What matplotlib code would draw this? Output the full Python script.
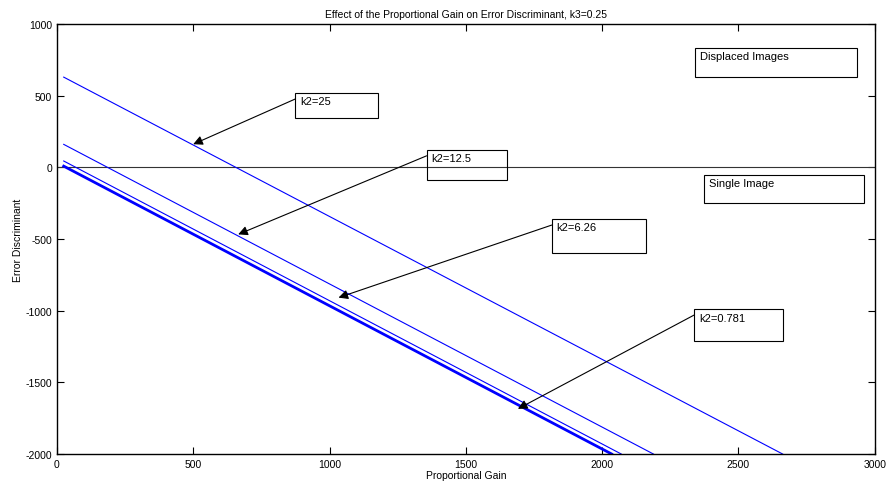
import matplotlib.pyplot as plt
from matplotlib.patches import Rectangle

plt.rcParams['font.family'] = ['Liberation Sans', 'DejaVu Sans']
plt.rcParams['axes.unicode_minus'] = False

# each line is straight: start point and the point where it leaves the bottom
labels = ['k2=25', 'k2=12.5', 'k2=6.26', 'k2=0.781']
gain_start = [25, 25, 25, 25]
disc_start = [629, 160, 44, 8]
gain_end = [2662, 2188, 2070, 2035]
disc_end = [-2000, -2000, -2000, -2000]
widths = [0.8, 0.8, 0.8, 2.0]

# annotation boxes (data coords): left, bottom, right, top, arrow head
boxes = [
    ('k2=25', 875, 343, 1176, 517, (500, 161)),
    ('k2=12.5', 1356, -90, 1650, 120, (665, -468)),
    ('k2=6.26', 1815, -600, 2160, -363, (1033, -909)),
    ('k2=0.781', 2337, -1214, 2664, -991, (1691, -1685)),
    ('Displaced Images', 2340, 630, 2935, 832, None),
    ('Single Image', 2373, -250, 2960, -55, None),
]

fig = plt.figure(figsize=(8.89, 4.89), dpi=100)
ax = fig.add_axes([0.064, 0.0695, 0.92, 0.8795])

ax.plot([0, 3000], [0, 0], color='#333333', lw=0.8)
for i in range(len(labels)):
    ax.plot([gain_start[i], gain_end[i]], [disc_start[i], disc_end[i]],
            color='#0000ff', lw=widths[i])

for text, x0, y0, x1, y1, head in boxes:
    ax.add_patch(Rectangle((x0, y0), x1 - x0, y1 - y0, fill=False,
                           edgecolor='black', lw=0.8, zorder=3))
    ax.text(x0 + 18, y1 - 22, text, fontsize=8, va='top', ha='left', zorder=4)
    if head is not None:
        ax.annotate('', xy=head, xytext=(x0, y1 - 40),
                    arrowprops=dict(arrowstyle='-|>', color='black', lw=0.8,
                                    mutation_scale=14, shrinkA=0, shrinkB=0))

ax.set_xlim(0, 3000)
ax.set_ylim(-2000, 1000)
ax.set_xticks(range(0, 3001, 500))
ax.set_yticks(range(-2000, 1001, 500))
ax.tick_params(direction='in', top=True, right=True, labelsize=7.5, length=5, width=0.8)
for s in ax.spines.values():
    s.set_linewidth(1.0)
ax.set_xlabel('Proportional Gain', fontsize=7.5, labelpad=1)
ax.set_ylabel('Error Discriminant', fontsize=7.5, labelpad=2)
ax.set_title('Effect of the Proportional Gain on Error Discriminant, k3=0.25', fontsize=7.5, pad=5)

fig.savefig('out.png', dpi=100)
